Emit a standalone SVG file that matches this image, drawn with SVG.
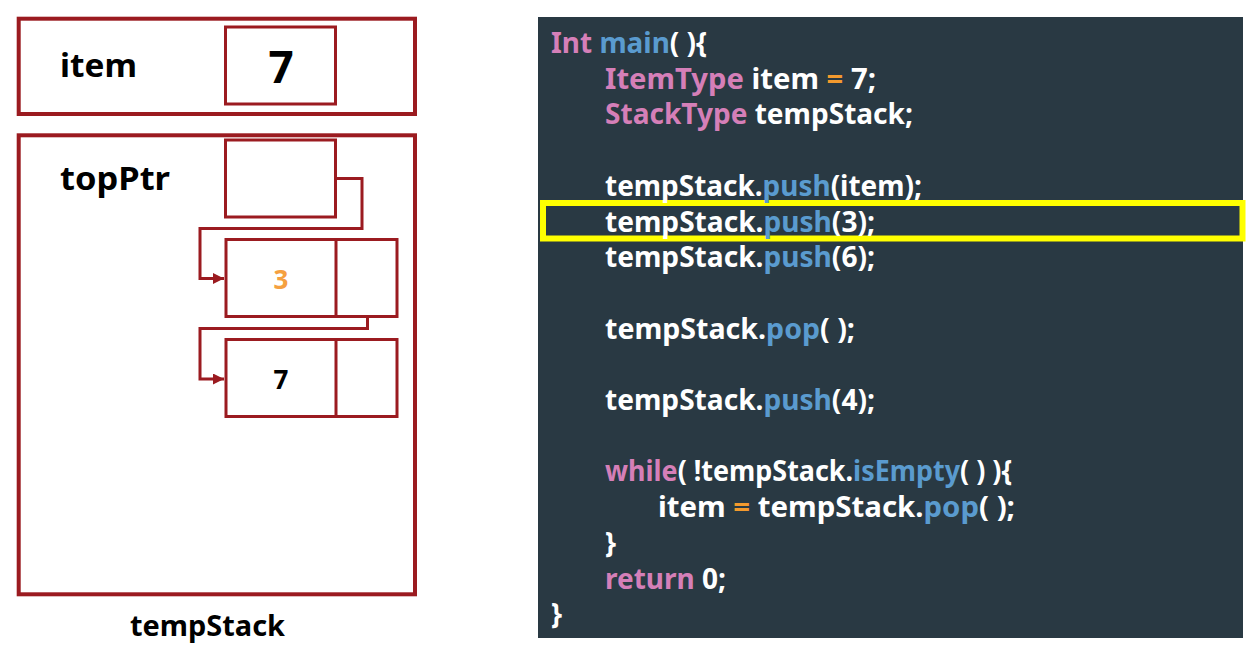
<svg xmlns="http://www.w3.org/2000/svg" width="1260" height="649" viewBox="0 0 1260 649">
<style>
.box{fill:none;stroke:#9B1B20;stroke-width:4}
.cell{fill:#fff;stroke:#9B1B20;stroke-width:3}
.wire{fill:none;stroke:#9B1B20;stroke-width:3}
.lbl{font-family:"Noto Sans","Liberation Sans",sans-serif;font-weight:bold;fill:#000}
.code{font-family:"Noto Sans","Liberation Sans",sans-serif;font-weight:bold;font-size:28px;fill:#fff}
.k{fill:#D57FB8}
.f{fill:#5A9BCF}
.o{fill:#F39A2E}
</style>
<defs>
<marker id="ah" viewBox="0 0 10 10" refX="10" refY="5" markerWidth="11" markerHeight="11" markerUnits="userSpaceOnUse" orient="auto">
<path d="M0,0 L10,5 L0,10 z" fill="#9B1B20"/>
</marker>
</defs>
<rect width="1260" height="649" fill="#fff"/>

<g id="item-var">
<rect class="box" x="18.7" y="18.7" width="396.3" height="95.3"/>
<text class="lbl" x="60" y="77" font-size="33" textLength="77" lengthAdjust="spacingAndGlyphs">item</text>
<rect class="cell" x="225.5" y="27" width="110" height="77"/>
<text class="lbl" x="281" y="83" font-size="44" text-anchor="middle">7</text>
</g>

<g id="tempStack">
<rect class="box" x="18.7" y="135.3" width="396.3" height="459"/>
<text class="lbl" x="60" y="190" font-size="33" textLength="110" lengthAdjust="spacingAndGlyphs">topPtr</text>
<text class="lbl" x="130" y="636" font-size="28" textLength="155" lengthAdjust="spacingAndGlyphs">tempStack</text>
</g>

<g id="topPtr">
<rect class="cell" x="225.5" y="140" width="110" height="77"/>
</g>

<g id="node3">
<rect class="cell" x="226" y="239.5" width="171" height="77"/>
<line class="wire" x1="336" y1="239.5" x2="336" y2="316.5"/>
<text class="lbl" x="281" y="289" font-size="26" text-anchor="middle" style="fill:#F5A040">3</text>
</g>

<g id="node7">
<rect class="cell" x="226" y="339.5" width="171" height="77"/>
<line class="wire" x1="336" y1="339.5" x2="336" y2="416.5"/>
<text class="lbl" x="281" y="389" font-size="26" text-anchor="middle">7</text>
</g>

<g id="connectors">
<polyline class="wire" points="336,178.5 362,178.5 362,228.5 200,228.5 200,278.5 224,278.5" marker-end="url(#ah)"/>
<polyline class="wire" points="367.5,317 367.5,328.5 200,328.5 200,379 224,379" marker-end="url(#ah)"/>
</g>

<g id="code">
<rect x="538" y="17" width="705" height="621" fill="#293943"/>
<rect x="543" y="203" width="699.5" height="35.5" fill="none" stroke="#FFFF00" stroke-width="6"/>
<text class="code" x="551" y="53" textLength="156" lengthAdjust="spacingAndGlyphs"><tspan class="k">Int</tspan> <tspan class="f">main</tspan>( ){</text>
<text class="code" x="605" y="88.7" textLength="271" lengthAdjust="spacingAndGlyphs"><tspan class="k">ItemType</tspan> item <tspan class="o">=</tspan> 7;</text>
<text class="code" x="605" y="124.4" textLength="308" lengthAdjust="spacingAndGlyphs"><tspan class="k">StackType</tspan> tempStack;</text>
<text class="code" x="605" y="195.8" textLength="317" lengthAdjust="spacingAndGlyphs">tempStack.<tspan class="f">push</tspan>(item);</text>
<text class="code" x="605" y="231.5" textLength="270" lengthAdjust="spacingAndGlyphs">tempStack.<tspan class="f">push</tspan>(3);</text>
<text class="code" x="605" y="267.2" textLength="270" lengthAdjust="spacingAndGlyphs">tempStack.<tspan class="f">push</tspan>(6);</text>
<text class="code" x="605" y="338.6" textLength="250" lengthAdjust="spacingAndGlyphs">tempStack.<tspan class="f">pop</tspan>( );</text>
<text class="code" x="605" y="410" textLength="270" lengthAdjust="spacingAndGlyphs">tempStack.<tspan class="f">push</tspan>(4);</text>
<text class="code" x="605" y="481.4" textLength="407" lengthAdjust="spacingAndGlyphs"><tspan class="k">while</tspan>( !tempStack.<tspan class="f">isEmpty</tspan>( ) ){</text>
<text class="code" x="658" y="517.1" textLength="357" lengthAdjust="spacingAndGlyphs">item <tspan class="o">=</tspan> tempStack.<tspan class="f">pop</tspan>( );</text>
<text class="code" x="605" y="552.8">}</text>
<text class="code" x="605" y="588.5" textLength="121" lengthAdjust="spacingAndGlyphs"><tspan class="k">return</tspan> 0;</text>
<text class="code" x="551" y="624.2">}</text>
</g>
</svg>
